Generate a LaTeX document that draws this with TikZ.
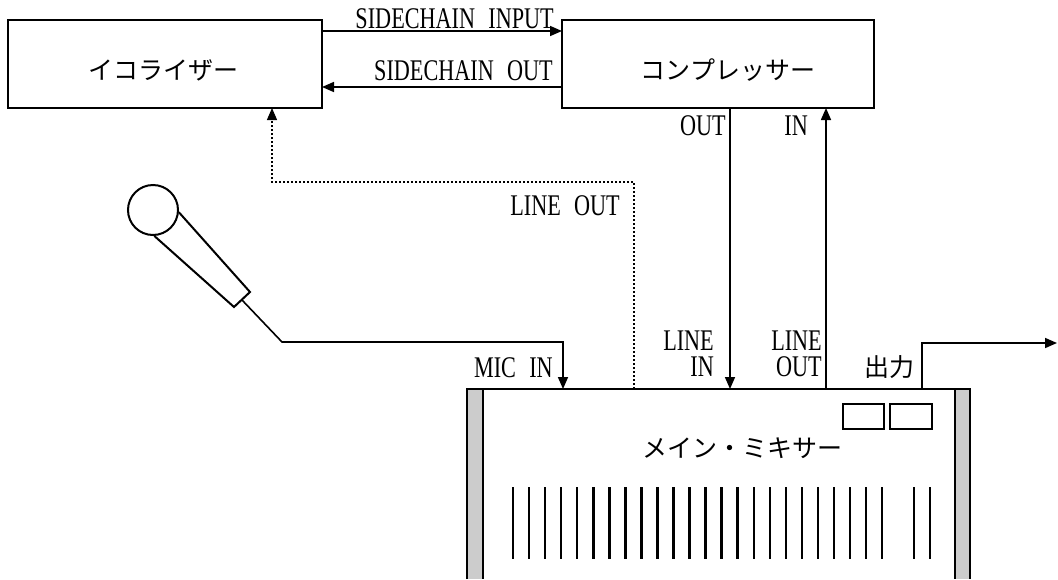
\documentclass[tikz,border=0pt]{standalone}
\usepackage{fontspec}
\setmainfont[FakeStretch=0.74, WordSpace=2.4]{Liberation Serif}
\newfontfamily\jpfont{Noto Sans CJK JP}
\usetikzlibrary{arrows.meta}

\begin{document}
\begin{tikzpicture}[x=1pt, y=-1pt,
  box/.style={draw, line width=2.5pt, minimum height=88pt, inner sep=0pt, outer sep=0pt},
  sig/.style={line width=1.6pt, -{Triangle[length=12pt,width=10pt]}},
  wire/.style={line width=1.6pt},
  dotline/.style={line width=1.2pt, dash pattern=on 2.5pt off 1.5pt,
    -{Triangle[length=12pt,width=10pt]}},
  lab/.style={inner sep=0pt, text height=19pt, text depth=0pt, font=\fontsize{30}{26}\selectfont},
  jp/.style={inner sep=0pt, font=\jpfont\fontsize{25}{25}\selectfont},
  fader/.style={line width=2.5pt},
]
  \useasboundingbox (0,0) rectangle (1058,579);

  % effect units
  \node[box, minimum width=314pt] (eq) at (165,64) {};
  \node[box, minimum width=312pt] (comp) at (718,64) {};
  \node[jp] (eqname) at (163,70) {イコライザー};
  \node[jp] (compname) at (728,70) {コンプレッサー};

  \draw[sig] ([yshift=-11pt]eq.north east) -- ([yshift=-11pt]comp.north west);
  \draw[sig] ([yshift=21pt]comp.south west) -- ([yshift=21pt]eq.south east);
  \node[lab, anchor=base east] (scin) at (554,28) {SIDECHAIN INPUT};
  \node[lab, anchor=base east] (scout) at (553,80) {SIDECHAIN OUT};

  % main mixer
  \fill[gray!40] (467,389) rectangle (483,579);
  \fill[gray!40] (955,389) rectangle (970,579);
  \draw[line width=2.5pt] (467,579) -- (467,389) -- (970,389) -- (970,579);
  \draw[line width=2.5pt] (483,389) -- (483,579);
  \draw[line width=2.5pt] (955,389) -- (955,579);
  \draw[line width=2pt] (843,404) rectangle (884,429);
  \draw[line width=2pt] (890,404) rectangle (932,429);
  \node[jp] (mixname) at (742,448) {メイン・ミキサー};
  \foreach \i in {0,...,23}
    \draw[fader] ({513+16.05*\i},487) -- ++(0,72);
  \foreach \x in {914,930}
    \draw[fader] (\x,487) -- ++(0,72);

  \coordinate (micin) at (563,389);
  \coordinate (lineout) at (634,389);
  \coordinate (linein) at (730,389);
  \coordinate (lineret) at (826,389);
  \coordinate (master) at (922,389);
  \coordinate (compout) at (730,108);
  \coordinate (compin) at (826,108);
  \coordinate (eqin) at (272,108);
  \coordinate (outend) at (1057,343);

  % microphone
  \node[draw, circle, line width=2pt, minimum size=50pt, inner sep=0pt] (mic) at (153,210) {};
  \draw[line width=2pt] (mic.-5) -- (250,292) -- (234,307) -- (mic.-87);
  \coordinate (plug) at (242,300);
  \draw[sig] (plug) -- (282,342) -| (micin);
  \node[lab, anchor=base east] (micl) at (553,377) {MIC IN};

  % connections
  \draw[dotline] (lineout) -- ++(0,-207) -| (eqin);
  \node[lab, anchor=base east] (lol) at (620,215) {LINE OUT};
  \draw[sig] (compout) -- (linein);
  \draw[sig] (lineret) -- (compin);
  \draw[sig] (master) |- (outend);
  \node[lab, anchor=base east] (outl) at (726,135) {OUT};
  \node[lab, anchor=base east] (inl) at (808,135) {IN};
  \node[lab, anchor=base east] (lil1) at (714,350) {LINE};
  \node[lab, anchor=base east] (lil2) at (714,376) {IN};
  \node[lab, anchor=base east] (lrl1) at (822,350) {LINE};
  \node[lab, anchor=base east] (lrl2) at (822,376) {OUT};
  \node[jp] (outname) at (889,367) {出力};
\end{tikzpicture}
\end{document}
